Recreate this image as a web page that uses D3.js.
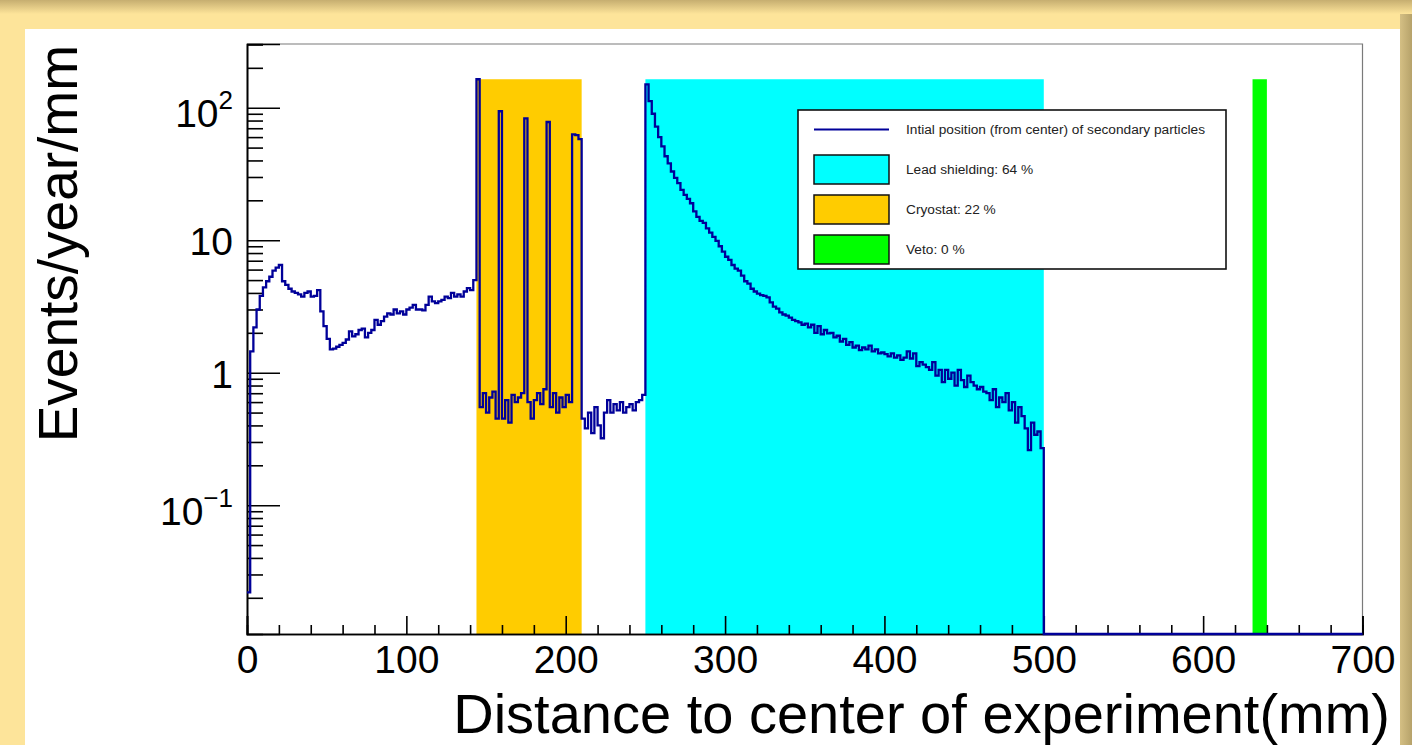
<!DOCTYPE html>
<html><head><meta charset="utf-8">
<script src="https://cdn.jsdelivr.net/npm/d3@7"></script>
<style>html,body{margin:0;padding:0;background:#fde49a;overflow:hidden}text{font-family:"Liberation Sans",Arial,Helvetica,sans-serif}</style>
</head><body><svg id="c" width="1412" height="745"></svg>
<script>
// ---------- data ----------
const binWidth = 2;            // mm per bin
const histStart = 0;           // mm
const counts = [
 0.022, 1.45, 2.2, 3.0, 3.8, 4.4, 4.9, 5.3, 5.9, 6.2,
 6.5, 4.9, 4.6, 4.3, 4.1, 4.0, 3.9, 3.75, 4.0, 4.1,
 3.75, 3.8, 4.2, 2.9, 2.25, 1.8, 1.5, 1.52, 1.57, 1.62,
 1.68, 1.78, 2.05, 1.88, 1.95, 2.1, 2.15, 1.85, 2.0, 2.1,
 2.5, 2.3, 2.45, 2.65, 2.8, 2.75, 3.0, 2.8, 2.9, 2.75,
 3.0, 3.1, 3.25, 3.0, 3.0, 2.95, 3.25, 3.75, 3.45, 3.35,
 3.45, 3.55, 3.75, 3.65, 4.0, 3.75, 3.9, 3.75, 4.1, 4.35,
 4.2, 5.0, 164, 0.55, 0.7, 0.5, 0.65, 0.72, 0.45, 94,
 0.45, 0.62, 0.42, 0.68, 0.6, 0.65, 0.7, 83, 0.6, 0.45,
 0.62, 0.7, 0.58, 0.75, 78, 0.55, 0.7, 0.5, 0.65, 0.55,
 0.68, 0.6, 63, 62, 58, 0.45, 0.38, 0.5, 0.35, 0.55,
 0.4, 0.32, 0.5, 0.62, 0.5, 0.58, 0.52, 0.6, 0.5, 0.55,
 0.58, 0.52, 0.6, 0.62, 0.68, 150, 112, 90, 72, 60,
 51, 43, 38, 33, 29.5, 27, 24, 22, 20.5, 19,
 16.5, 15, 14, 13.5, 12.3, 11.4, 10.6, 9.9, 9.0, 8.2,
 7.5, 7.1, 6.5, 6.1, 5.9, 5.4, 4.9, 4.7, 4.3, 4.1,
 3.95, 3.85, 3.8, 3.7, 3.4, 3.15, 3.05, 2.85, 2.75, 2.7,
 2.6, 2.5, 2.45, 2.4, 2.3, 2.35, 2.2, 2.3, 2.0, 2.25,
 1.95, 2.1, 1.98, 2.0, 1.85, 1.9, 1.72, 1.8, 1.62, 1.7,
 1.55, 1.6, 1.48, 1.55, 1.5, 1.6, 1.45, 1.5, 1.4, 1.42,
 1.38, 1.33, 1.4, 1.3, 1.35, 1.25, 1.3, 1.45, 1.28, 1.4,
 1.12, 1.2, 1.15, 1.1, 1.05, 1.2, 0.95, 1.05, 0.85, 1.05,
 0.9, 1.0, 0.8, 1.05, 0.88, 0.78, 0.95, 0.85, 0.8, 0.75,
 0.78, 0.72, 0.7, 0.62, 0.75, 0.55, 0.65, 0.6, 0.7, 0.52,
 0.6, 0.42, 0.55, 0.47, 0.38, 0.26, 0.42, 0.34, 0.36, 0.27
];
const emptyRange = [500, 700];          // bins with zero content (drawn at frame bottom)
const regionNames = ["Lead shielding", "Cryostat", "Veto"];
const regionPct   = [64, 22, 0];
const regionLo    = [250, 144, 631];
const regionHi    = [500, 210, 640];
const regionTop   = 164;                // height of the region histograms
const xDomain = [0, 700];
const yDomain = [0.01066, 302.6];
const xMajorTicks = [0, 100, 200, 300, 400, 500, 600, 700];
const yMajorTicks = [0.1, 1, 10, 100];
const yTickLabels = [["10", "\u22121"], ["1", null], ["10", null], ["10", "2"]];
const lineLabel = "Intial position (from center) of secondary particles";
const xTitle = "Distance to center of experiment(mm)";
const yTitle = "Events/year/mm";

// ---------- styles ----------
const regionColors = ["#00ffff", "#ffcc00", "#00ff00"];
const lineColor = "#000099";

// ---------- drawing ----------
const svg = d3.select("#c");
const defs = svg.append("defs");
const gTop = defs.append("linearGradient").attr("id","gTop").attr("x1",0).attr("y1",0).attr("x2",0).attr("y2",1);
gTop.append("stop").attr("offset","0%").attr("stop-color","#c6ae70");
gTop.append("stop").attr("offset","100%").attr("stop-color","#fde49a");
const gRight = defs.append("linearGradient").attr("id","gRight").attr("x1",0).attr("y1",0).attr("x2",1).attr("y2",0);
gRight.append("stop").attr("offset","0%").attr("stop-color","#d4bf84");
gRight.append("stop").attr("offset","100%").attr("stop-color","#b6a26a");

svg.append("rect").attr("x",0).attr("y",0).attr("width",1412).attr("height",745).attr("fill","#fde49a");
svg.append("rect").attr("x",0).attr("y",0).attr("width",1412).attr("height",14).attr("fill","url(#gTop)");
svg.append("rect").attr("x",1400).attr("y",14).attr("width",12).attr("height",731).attr("fill","url(#gRight)");
svg.append("rect").attr("x",25).attr("y",29).attr("width",1375).attr("height",716).attr("fill","#ffffff");

const L = 247, R = 1362.5, T = 44, B = 634;
const x = d3.scaleLinear().domain(xDomain).range([L, R]);
const y = d3.scaleLog().domain(yDomain).range([B, T]);

// region fills
regionNames.forEach((n, i) => {
  svg.append("rect")
    .attr("x", x(regionLo[i])).attr("width", x(regionHi[i]) - x(regionLo[i]))
    .attr("y", y(regionTop)).attr("height", y(yDomain[0]) - y(regionTop))
    .attr("fill", regionColors[i]);
});

// frame top/right
svg.append("path").attr("d", `M${L},${T}H${R}V${B}`).attr("fill","none").attr("stroke","#7a7a7a").attr("stroke-width",1.2);

// y axis
const yMinor = [];
for (let e = -2; e <= 2; e++) for (let m = 2; m <= 9; m++) {
  const v = m * Math.pow(10, e);
  if (v >= yDomain[0] && v <= yDomain[1]) yMinor.push(v);
}
const yAxMinor = svg.append("g").attr("transform", `translate(${L},0)`)
  .call(d3.axisLeft(y).tickValues(yMinor).tickSize(-16).tickFormat(""));
const yAxMajor = svg.append("g").attr("transform", `translate(${L},0)`)
  .call(d3.axisLeft(y).tickValues(yMajorTicks).tickSize(-33).tickFormat(""));
[yAxMinor, yAxMajor].forEach(g => {
  g.select(".domain").attr("stroke","#000").attr("stroke-width",1.6);
  g.selectAll(".tick line").attr("stroke","#000").attr("stroke-width",1.6);
});
yMajorTicks.forEach((v, i) => {
  const [base, sup] = yTickLabels[i];
  const t = svg.append("text").attr("x", 233).attr("text-anchor","end")
    .attr("y", y(v) + (sup ? 19.5 : 15)).attr("font-size", 39).attr("fill","#000");
  t.append("tspan").text(base);
  if (sup) t.append("tspan").attr("font-size", 26).attr("dy", -18).text(sup);
});

// x axis
const xMinor = d3.range(0, 701, 20).filter(v => v % 100 !== 0);
const xAxMinor = svg.append("g").attr("transform", `translate(0,${B})`)
  .call(d3.axisBottom(x).tickValues(xMinor).tickSize(-9).tickFormat(""));
const xAxMajor = svg.append("g").attr("transform", `translate(0,${B})`)
  .call(d3.axisBottom(x).tickValues(xMajorTicks).tickSize(-18).tickPadding(11).tickFormat(d3.format("d")));
[xAxMinor, xAxMajor].forEach(g => {
  g.select(".domain").attr("stroke","#000").attr("stroke-width",1.6);
  g.selectAll(".tick line").attr("stroke","#000").attr("stroke-width",1.6);
});
xAxMajor.selectAll(".tick text").attr("font-size", 39).attr("fill","#000")
  .attr("font-family", '"Liberation Sans",Arial,sans-serif');

// histogram outline
const pts = [];
counts.forEach((c, i) => {
  const x0 = histStart + i * binWidth, x1 = x0 + binWidth;
  pts.push([x(x0), y(c)], [x(x1), y(c)]);
});
pts.push([x(emptyRange[0]), y(yDomain[0])], [x(emptyRange[1]), y(yDomain[0])]);
svg.append("path").attr("d", d3.line()(pts)).attr("fill","none")
  .attr("stroke", lineColor).attr("stroke-width", 2.3).attr("stroke-linejoin","miter");

// titles
svg.append("text").attr("x", 1390).attr("y", 733).attr("text-anchor","end")
  .attr("font-size", 56).attr("fill","#000").text(xTitle);
svg.append("text").attr("transform","translate(77,45) rotate(-90)").attr("text-anchor","end")
  .attr("font-size", 55).attr("fill","#000").text(yTitle);

// legend
const lg = svg.append("g");
lg.append("rect").attr("x", 798).attr("y", 110).attr("width", 428).attr("height", 159)
  .attr("fill","#fff").attr("stroke","#111").attr("stroke-width",1.6);
lg.append("line").attr("x1", 814).attr("x2", 889).attr("y1", 129.5).attr("y2", 129.5)
  .attr("stroke", lineColor).attr("stroke-width", 2);
const rows = [lineLabel].concat(regionNames.map((n, i) => `${n}: ${regionPct[i]} %`));
rows.forEach((r, i) => {
  lg.append("text").attr("x", 906).attr("y", 129.5 + i * 40).attr("dy","0.35em")
    .attr("font-size", 13.7).attr("fill","#222").text(r);
  if (i > 0) lg.append("rect").attr("x", 814).attr("y", 155 + (i - 1) * 40).attr("width", 75).attr("height", 29)
    .attr("fill", regionColors[i - 1]).attr("stroke","#111").attr("stroke-width",1.5);
});
</script></body></html>
